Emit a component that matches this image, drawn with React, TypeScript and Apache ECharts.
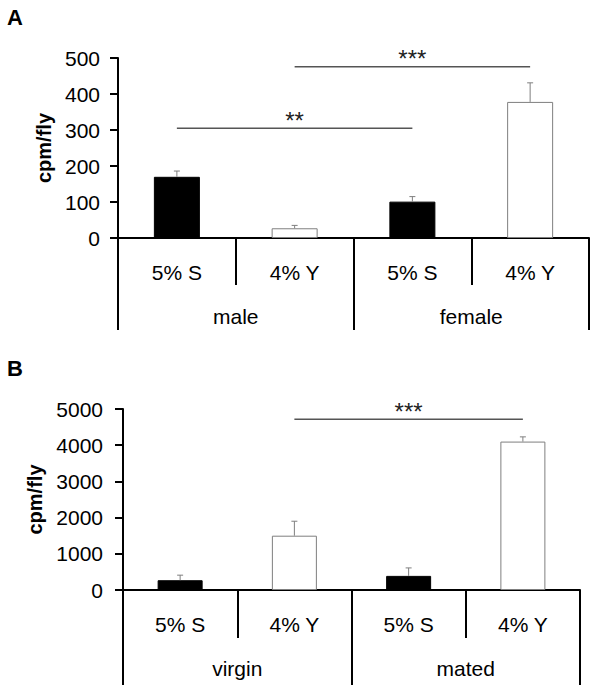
import React, { useEffect, useRef } from "react";
import * as echarts from "echarts";

const treatments = ["5% S", "4% Y", "5% S", "4% Y"];
const groupsA = ["male", "female"];
const groupsB = ["virgin", "mated"];
const valuesA = [170, 27, 101, 378];
const errorsA = [16, 8, 14, 53];
const valuesB = [270, 1500, 390, 4100];
const errorsB = [140, 400, 220, 130];
const sigA = [
  [0, 2, 305],
  [1, 3, 476],
];
const sigLabelsA = ["**", "***"];
const sigB = [[1, 3, 4715]];
const sigLabelsB = ["***"];
const fillColors = ["#000000", "#ffffff", "#000000", "#ffffff"];

const FONT = "'Liberation Sans', Arial, sans-serif";

function barData(values: number[]) {
  return values.map((v, i) => ({
    value: v,
    itemStyle: {
      color: fillColors[i],
      borderColor: fillColors[i] === "#000000" ? "#000000" : "#7f7f7f",
      borderWidth: 1,
    },
  }));
}

function errorRender(params: any, api: any) {
  const x = api.value(0);
  const v = api.value(1);
  const e = api.value(2);
  const p0 = api.coord([x, v]);
  const p1 = api.coord([x, v + e]);
  const style = { stroke: "#7f7f7f", lineWidth: 1 };
  return {
    type: "group",
    children: [
      { type: "line", shape: { x1: p0[0], y1: p0[1], x2: p1[0], y2: p1[1] }, style },
      { type: "line", shape: { x1: p1[0] - 3, y1: p1[1], x2: p1[0] + 3, y2: p1[1] }, style },
    ],
  };
}

function sigRender(labels: string[]) {
  return (params: any, api: any) => {
    const a = api.coord([api.value(0), api.value(2)]);
    const b = api.coord([api.value(1), api.value(2)]);
    return {
      type: "group",
      children: [
        {
          type: "line",
          shape: { x1: a[0], y1: a[1], x2: b[0], y2: b[1] },
          style: { stroke: "#555555", lineWidth: 1.5 },
        },
        {
          type: "text",
          x: (a[0] + b[0]) / 2,
          y: a[1] + 4,
          style: {
            text: labels[params.dataIndex],
            fill: "#222222",
            font: `24px ${FONT}`,
            align: "center",
            verticalAlign: "bottom",
          },
        },
      ],
    };
  };
}

function panel(
  gi: number,
  groups: string[],
  values: number[],
  errors: number[],
  sig: number[][],
  sigLabels: string[],
  max: number,
  interval: number,
  labelMargin: number,
  nameGap: number,
  innerTick: number,
  outerTick: number,
  barWidth: number
) {
  const axisLineStyle = { color: "#000", width: 2 };
  const xAxes = [
    {
      type: "category",
      gridIndex: gi,
      data: treatments,
      position: "bottom",
      axisLine: { show: true, lineStyle: axisLineStyle },
      axisTick: { show: true, length: innerTick, lineStyle: axisLineStyle, alignWithLabel: false },
      axisLabel: { show: true, color: "#000", fontSize: 21, fontFamily: FONT, margin: 24 },
    },
    {
      type: "category",
      gridIndex: gi,
      data: groups,
      position: "bottom",
      axisLine: { show: false },
      axisTick: { show: true, length: outerTick, lineStyle: axisLineStyle, alignWithLabel: false },
      axisLabel: { show: true, color: "#000", fontSize: 21, fontFamily: FONT, margin: 68 },
    },
  ];
  const yAxis = {
    type: "value",
    gridIndex: gi,
    min: 0,
    max,
    interval,
    name: "cpm/fly",
    nameLocation: "middle",
    nameRotate: 90,
    nameGap,
    nameTextStyle: { color: "#000", fontSize: 20, fontWeight: "bold", fontFamily: FONT },
    axisLine: { show: true, lineStyle: axisLineStyle },
    axisTick: { show: true, length: 8, lineStyle: axisLineStyle },
    axisLabel: {
      color: "#000",
      fontSize: 21,
      fontFamily: FONT,
      margin: labelMargin,
      formatter: (v: number) => String(v),
    },
    splitLine: { show: false },
  };
  const xBase = gi * 2;
  const series = [
    {
      type: "bar",
      xAxisIndex: xBase,
      yAxisIndex: gi,
      barWidth,
      data: barData(values),
    },
    {
      type: "custom",
      xAxisIndex: xBase,
      yAxisIndex: gi,
      renderItem: errorRender,
      clip: false,
      data: values.map((v, i) => [i, v, errors[i]]),
      z: 5,
    },
    {
      type: "custom",
      xAxisIndex: xBase,
      yAxisIndex: gi,
      renderItem: sigRender(sigLabels),
      clip: false,
      data: sig,
      z: 5,
    },
  ];
  return { xAxes, yAxis, series };
}

export default function App() {
  const ref = useRef<HTMLDivElement>(null);
  useEffect(() => {
    if (!ref.current) return;
    const chart = echarts.init(ref.current, undefined, { renderer: "svg" });
    const a = panel(0, groupsA, valuesA, errorsA, sigA, sigLabelsA, 500, 100, 18, 62, 47, 92, 46);
    const b = panel(1, groupsB, valuesB, errorsB, sigB, sigLabelsB, 5000, 1000, 20, 74, 48, 95, 45);
    chart.setOption({
      animation: false,
      backgroundColor: "#ffffff",
      textStyle: { fontFamily: FONT },
      grid: [
        { left: 118, width: 471, top: 58, height: 180 },
        { left: 123, width: 457, top: 409, height: 181 },
      ],
      xAxis: [...a.xAxes, ...b.xAxes],
      yAxis: [a.yAxis, b.yAxis],
      series: [...a.series, ...b.series],
      graphic: [
        { type: "text", left: 7, top: 6, style: { text: "A", font: `bold 22px ${FONT}`, fill: "#000" } },
        { type: "text", left: 7, top: 357, style: { text: "B", font: `bold 22px ${FONT}`, fill: "#000" } },
      ],
    });
    return () => chart.dispose();
  }, []);
  return (
    <div
      ref={ref}
      style={{ position: "fixed", left: 0, top: 0, width: 597, height: 692, background: "#fff" }}
    />
  );
}
